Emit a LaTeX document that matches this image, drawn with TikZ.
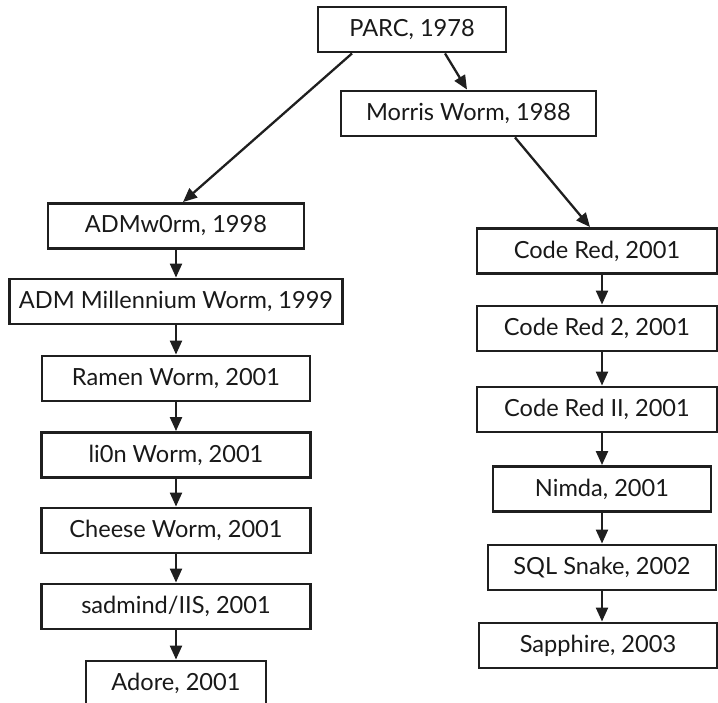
\documentclass[tikz,border=0pt]{standalone}
\usepackage{fontspec}
\setmainfont{Lato}
\usetikzlibrary{arrows.meta}
\begin{document}
\begin{tikzpicture}[x=1pt,y=-1pt,
  box/.style={draw=black!88, line width=2.9pt, inner sep=0pt, minimum height=45pt,
    font=\fontsize{23.6}{27}\selectfont, text=black!90},
  arr/.style={draw=black!88, line width=2.3pt, -{Triangle[length=14pt,width=12pt]}}]
\useasboundingbox (0,0) rectangle (718,703);
% top
\node[box, minimum width=188pt] (parc) at (412,29.5) {PARC, 1978};
\node[box, minimum width=255pt] (morris) at (468.5,113.5) {Morris Worm, 1988};
% left column
\node[box, minimum width=256pt] (admw) at (176,226) {ADMw0rm, 1998};
\node[box, minimum width=333pt] (admm) at (176,301.5) {ADM Millennium Worm, 1999};
\node[box, minimum width=268pt] (ramen) at (176,378.5) {Ramen Worm, 2001};
\node[box, minimum width=269pt] (lion) at (176,455) {li0n Worm, 2001};
\node[box, minimum width=269pt] (cheese) at (176,530.5) {Cheese Worm, 2001};
\node[box, minimum width=269pt] (sadmind) at (176,606.5) {sadmind/IIS, 2001};
\node[box, minimum width=180pt] (adore) at (176,683.5) {Adore, 2001};
% right column
\node[box, minimum width=240pt] (cr) at (597,251) {Code Red, 2001};
\node[box, minimum width=240pt] (cr2) at (597,328.5) {Code Red 2, 2001};
\node[box, minimum width=240pt] (crii) at (597,409.5) {Code Red II, 2001};
\node[box, minimum width=218pt] (nimda) at (602,489) {Nimda, 2001};
\node[box, minimum width=228pt] (sql) at (602,567.5) {SQL Snake, 2002};
\node[box, minimum width=238pt] (sapph) at (598,645.5) {Sapphire, 2003};
% connectors
\draw[arr] ([xshift=-60pt]parc.south) -- ([xshift=7pt]admw.north);
\draw[arr] ([xshift=33pt]parc.south) -- ([xshift=-1.5pt]morris.north);
\draw[arr] ([xshift=46.5pt]morris.south) -- ([xshift=-7pt]cr.north);
\draw[arr] (admw) -- (admm);
\draw[arr] (admm) -- (ramen);
\draw[arr] (ramen) -- (lion);
\draw[arr] (lion) -- (cheese);
\draw[arr] (cheese) -- (sadmind);
\draw[arr] (sadmind) -- (adore);
\draw[arr] (cr.south -| nimda.center) -- (cr2.north -| nimda.center);
\draw[arr] (cr2.south -| nimda.center) -- (crii.north -| nimda.center);
\draw[arr] (crii.south -| nimda.center) -- (nimda.north);
\draw[arr] (nimda) -- (sql);
\draw[arr] (sql.south -| nimda.center) -- (sapph.north -| nimda.center);
\end{tikzpicture}
\end{document}
